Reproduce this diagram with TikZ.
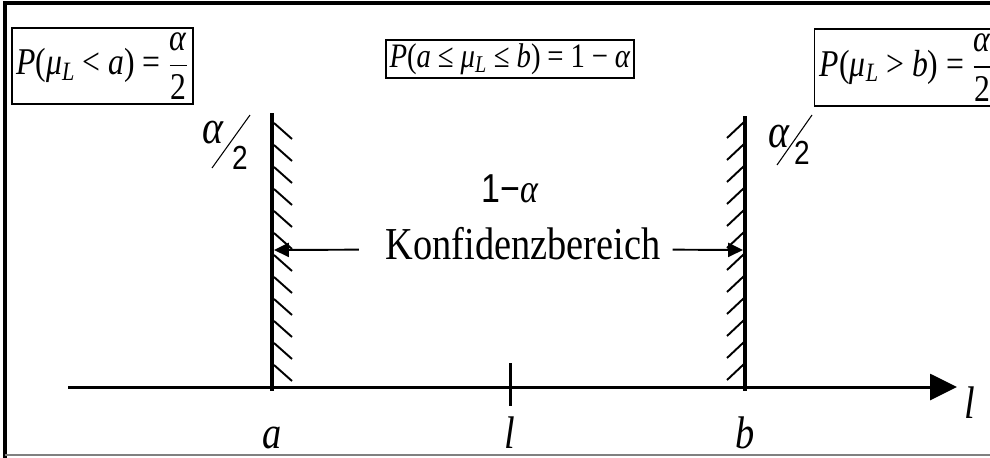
\documentclass[tikz,border=0pt]{standalone}
\usepackage{amsmath}
\usepackage{fontspec}
\setmainfont{Liberation Serif}[FakeStretch=0.84]
\newfontfamily\arialfont{Liberation Sans}[FakeStretch=0.84]
\usetikzlibrary{arrows.meta}
\newcommand{\half}{$\dfrac{\text{\itshape α}}{\text{2}}$}
\newcommand{\muL}{\textit{μ}\textsubscript{\textit{L}}}
\newcommand{\gap}{\hspace{0.2em}}
\begin{document}
\begin{tikzpicture}[x=0.02cm,y=-0.02cm,
    wall/.style={line width=1.9pt},
    hatch/.style={line width=1.1pt},
    axis/.style={line width=1.7pt,-{Triangle[length=15.3pt,width=14.7pt]}},
    ptr/.style={line width=1.1pt,-{Triangle[length=8.5pt,width=8pt]}},
    pbox/.style={draw,line width=0.8pt,inner sep=2pt,font=\fontsize{21.5}{24}\selectfont},
    lab/.style={anchor=base,inner sep=0pt,font=\fontsize{26}{28}\selectfont\itshape},
    every node/.style={inner sep=0pt}]
  \useasboundingbox (0,0) rectangle (990,457);
  % ---- frame, cut off at the right ----
  \draw[line width=2.3pt] (5,460) -- (5,3) -- (1000,3);
  \draw[gray,line width=0.6pt] (5,455) -- (1000,455);
  % ---- the three probabilities ----
  \node[pbox,minimum width=3.62cm,minimum height=1.52cm] (pa) at (102.5,66)
    {\textit{P}(\muL\gap<\gap\textit{a})\gap=\gap\half};
  \node[pbox,minimum width=4.68cm,minimum height=0.64cm,font=\fontsize{19.5}{22}\selectfont] (pab) at (510,59)
    {\textit{P}(\textit{a}\gap≤\gap\muL\gap≤\gap\textit{b})\gap=\gap1\gap−\gap\textit{α}};
  \node[pbox,anchor=west,minimum height=1.54cm,inner xsep=3pt] (pb) at (814,67.5)
    {\textit{P}(\muL\gap>\gap\textit{b})\gap=\gap\half\hspace{20pt}};
  % ---- the two limits with their hatching ----
  \coordinate (atop) at (272,113);
  \coordinate (a) at (272,391);
  \coordinate (btop) at (745,116);
  \coordinate (b) at (745,391);
  \draw[wall] (atop) -- (a);
  \draw[wall] (btop) -- (b);
  \foreach \k in {0,...,11}{
    \draw[hatch] (274,123+22*\k) -- ++(18,16);
    \draw[hatch] (744,122+22*\k) -- ++(-17,16);
  }
  % ---- the axis ----
  \coordinate (l0) at (68,387);
  \coordinate (l1) at (957,387);
  \draw[axis] (l0) -- (l1);
  \node[lab] (lname) at (970,418) {l};
  \coordinate (tt) at (510,363);
  \coordinate (tb) at (510,406);
  \draw[line width=1.7pt] (tt) -- (tb);
  \node[lab] (la) at (272,448) {a};
  \node[lab] (ll) at (510,448) {l};
  \node[lab] (lb) at (745,448) {b};
  % ---- alpha/2 at each limit ----
  \node[font=\fontsize{27}{30}\selectfont\itshape] (al) at (213,133) {α};
  \node[font=\fontsize{19}{22}\selectfont\arialfont] (tl) at (240,157.5) {2};
  \draw[line width=0.6pt] (212,168) -- (250,115);
  \node[font=\fontsize{27}{30}\selectfont\itshape] (ar) at (779,137) {α};
  \node[font=\fontsize{19}{22}\selectfont\arialfont] (tr) at (802,153) {2};
  \draw[line width=0.6pt] (777,165) -- (812,115);
  % ---- the confidence region ----
  \node[anchor=base,font=\fontsize{23}{26}\selectfont] (mid) at (510,202)
    {{\arialfont 1−}\textit{α}};
  \node[font=\fontsize{26}{30}\selectfont] (kb) at (523,243.5) {Konfidenzbereich};
  \coordinate (aw) at (274,250);
  \coordinate (bw) at (743,250);
  \draw[ptr] ([xshift=-15pt,yshift=-3.5pt]kb.west) -- (aw);
  \draw[ptr] ([xshift=6.8pt,yshift=-3.5pt]kb.east) -- (bw);
\end{tikzpicture}
\end{document}
